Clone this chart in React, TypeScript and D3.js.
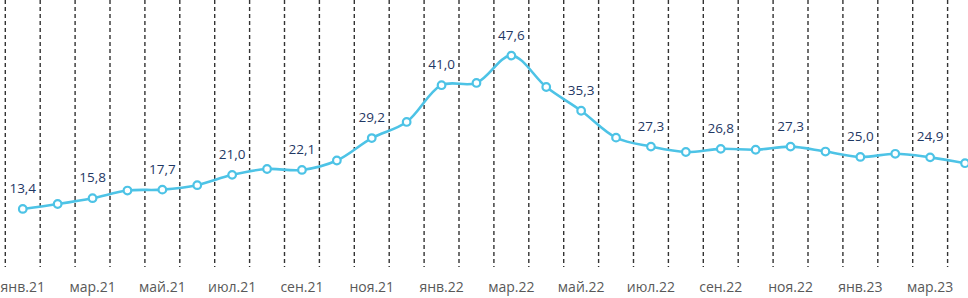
import React, { useEffect, useRef } from 'react';
import * as d3 from 'd3';

const months = [
  'янв.21', 'фев.21', 'мар.21', 'апр.21', 'май.21', 'июн.21', 'июл.21', 'авг.21', 'сен.21', 'окт.21', 'ноя.21', 'дек.21',
  'янв.22', 'фев.22', 'мар.22', 'апр.22', 'май.22', 'июн.22', 'июл.22', 'авг.22', 'сен.22', 'окт.22', 'ноя.22', 'дек.22',
  'янв.23', 'фев.23', 'мар.23', 'апр.23',
];

const values = [
  13.4, 14.5, 15.8, 17.5, 17.7, 18.7, 21.0, 22.3, 22.1, 24.2, 29.2, 32.8,
  41.0, 41.5, 47.6, 40.6, 35.3, 29.3, 27.3, 26.1, 26.8, 26.6, 27.3, 26.2,
  25.0, 25.7, 24.9, 23.6,
];

const width = 968;
const height = 298;

const fmt = (v: number) => v.toFixed(1).replace('.', ',');

const App = () => {
  const rootRef = useRef<SVGSVGElement>(null);

  useEffect(() => {
    const svg = d3.select(rootRef.current);
    svg.selectAll('*').remove();

    const x = d3.scaleBand<string>().domain(months).range([5.3, 982.5]);
    const y = d3.scaleLinear().domain([0, 60]).range([269, 0]);
    const cx = (m: string) => (x(m) as number) + x.bandwidth() / 2;

    // dashed separators between months
    svg
      .append('g')
      .selectAll('line')
      .data(months)
      .enter()
      .append('line')
      .attr('x1', (d) => x(d) as number)
      .attr('x2', (d) => x(d) as number)
      .attr('y1', 0)
      .attr('y2', 267)
      .attr('stroke', '#333')
      .attr('stroke-width', 1.4)
      .attr('stroke-dasharray', '4,3');

    const data = months.map((m, i) => ({ m, v: values[i], i }));

    const line = d3
      .line<{ m: string; v: number }>()
      .x((d) => cx(d.m))
      .y((d) => y(d.v))
      .curve(d3.curveCatmullRom.alpha(0.5));

    svg
      .append('path')
      .datum(data)
      .attr('d', line)
      .attr('fill', 'none')
      .attr('stroke', '#4dc3e6')
      .attr('stroke-width', 2.6);

    svg
      .append('g')
      .selectAll('circle')
      .data(data)
      .enter()
      .append('circle')
      .attr('cx', (d) => cx(d.m))
      .attr('cy', (d) => y(d.v))
      .attr('r', 3.8)
      .attr('fill', '#ffffff')
      .attr('stroke', '#4dc3e6')
      .attr('stroke-width', 2.2);

    // value labels
    svg
      .append('g')
      .selectAll('text')
      .data(data.filter((d) => d.i % 2 === 0))
      .enter()
      .append('text')
      .attr('x', (d) => cx(d.m))
      .attr('y', (d) => y(d.v) - 16)
      .attr('text-anchor', 'middle')
      .attr('font-family', '"Open Sans", sans-serif')
      .attr('font-size', 13.5)
      .attr('fill', '#1f3864')
      .text((d) => fmt(d.v));

    // month labels
    svg
      .append('g')
      .selectAll('text')
      .data(months.filter((_, i) => i % 2 === 0))
      .enter()
      .append('text')
      .attr('x', (d) => cx(d))
      .attr('y', 291.5)
      .attr('text-anchor', 'middle')
      .attr('font-family', '"Open Sans", sans-serif')
      .attr('font-size', 14)
      .attr('fill', '#595959')
      .text((d) => d);
  }, []);

  return (
    <svg
      ref={rootRef}
      width={width}
      height={height}
      style={{ position: 'absolute', left: 0, top: 0, background: '#fff' }}
    ></svg>
  );
};

export default App;
